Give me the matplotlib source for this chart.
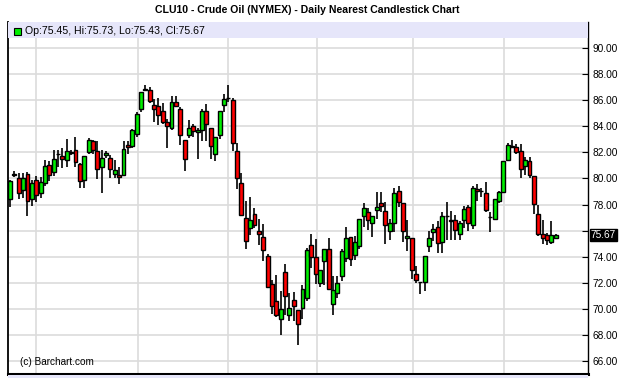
import matplotlib
matplotlib.use("Agg")
import matplotlib.pyplot as plt
from matplotlib.patches import Rectangle
from matplotlib.transforms import blended_transform_factory
import numpy as np

# ---- data ----
opens = [78.4, 80.3, 80.0, 79.1, 80.35, 78.4, 79.9, 78.85, 79.65, 81.0,
         80.5, 81.85, 81.75, 81.45, 81.95, 82.15, 81.1, 79.9, 82.0, 82.85,
         82.1, 80.9, 81.8, 81.6, 80.35, 80.25, 80.3, 82.55, 82.5, 83.4,
         85.35, 86.8, 86.75, 85.65, 85.55, 85.2, 84.35, 83.85, 85.9, 85.35,
         82.95, 83.3, 84.05, 83.55, 83.7, 85.2, 83.9, 81.9, 83.35, 85.6,
         86.15, 86.0, 82.1, 79.65, 76.95, 76.2, 77.25, 76.0, 75.5, 74.05,
         71.9, 70.6, 69.25, 72.8, 69.55, 70.7, 69.9, 70.1, 70.8, 74.9,
         73.95, 72.0, 73.7, 74.6, 70.4, 71.25, 72.55, 73.9, 75.5, 74.1,
         74.8, 77.1, 77.45, 76.55, 77.55, 78.1, 77.5, 76.0, 76.55, 79.05,
         78.15, 75.45, 75.4, 72.7, 72.03, 72.05, 74.85, 75.9, 76.3, 75.1,
         77.15, 76.8, 76.85, 75.75, 76.8, 77.8, 76.45, 79.2, 79.05, 78.9,
         77.05, 76.9, 78.25, 78.95, 81.4, 82.5, 82.4, 82.1, 80.95, 81.35,
         80.2, 77.3, 75.75, 75.65, 75.1, 75.45]
highs = [79.9, 80.55, 80.4, 80.4, 80.5, 79.9, 80.2, 80.1, 81.4, 81.3,
         82.2, 82.2, 82.3, 83.0, 82.2, 83.2, 81.2, 81.7, 83.1, 82.95,
         82.9, 82.2, 82.1, 81.8, 81.4, 80.9, 82.9, 82.85, 83.8, 85.1,
         86.65, 87.15, 87.0, 86.1, 86.2, 85.8, 84.55, 86.3, 86.3, 85.45,
         82.95, 84.5, 84.2, 83.85, 85.3, 85.7, 83.9, 83.2, 85.2, 86.5,
         87.15, 86.2, 82.7, 80.4, 78.3, 78.6, 77.7, 76.9, 76.5, 74.2,
         72.2, 72.6, 71.4, 73.4, 71.2, 71.3, 69.9, 71.8, 74.7, 75.75,
         75.35, 73.0, 74.6, 75.45, 72.5, 72.55, 74.6, 76.3, 75.5, 75.6,
         76.9, 78.15, 77.75, 77.15, 78.95, 78.95, 78.2, 76.9, 79.3, 79.4,
         78.15, 76.8, 75.4, 73.3, 72.05, 74.05, 76.0, 76.5, 76.75, 77.45,
         78.2, 77.5, 77.2, 76.7, 77.9, 78.0, 79.4, 79.6, 79.3, 79.75,
         77.4, 78.4, 79.05, 81.3, 82.7, 82.95, 82.65, 82.65, 81.65, 81.65,
         80.2, 78.0, 76.85, 75.8, 76.7, 75.73]
lows = [77.8, 80.1, 78.4, 78.5, 77.1, 77.9, 78.2, 78.5, 79.4, 79.8,
        80.2, 80.9, 80.8, 80.85, 81.8, 80.9, 79.3, 79.3, 81.9, 81.9,
        79.95, 78.9, 81.6, 80.0, 80.0, 79.6, 80.2, 81.9, 82.3, 83.2,
        85.1, 86.7, 85.8, 84.3, 84.1, 84.2, 82.3, 83.75, 85.5, 82.6,
        80.55, 83.1, 83.2, 81.5, 82.9, 82.9, 81.5, 81.3, 83.0, 85.1,
        85.9, 82.1, 79.2, 77.2, 74.6, 75.7, 76.2, 74.9, 73.7, 71.65,
        69.6, 69.4, 68.0, 69.5, 69.1, 69.1, 67.2, 69.2, 70.6, 73.15,
        71.9, 71.7, 71.8, 71.5, 69.5, 70.8, 72.1, 73.6, 73.3, 73.75,
        74.6, 76.3, 76.05, 75.5, 76.9, 77.45, 75.0, 75.3, 75.9, 77.8,
        75.1, 74.4, 72.25, 71.95, 71.15, 71.4, 74.35, 75.2, 74.3, 74.3,
        75.25, 75.3, 75.3, 75.25, 76.2, 76.0, 76.1, 78.3, 78.6, 77.4,
        75.9, 76.8, 78.1, 78.85, 81.35, 82.3, 81.9, 80.0, 80.3, 80.05,
        77.3, 75.6, 75.0, 74.9, 75.0, 75.43]
closes = [79.8, 80.32, 78.85, 80.0, 78.3, 79.65, 78.75, 79.7, 80.95, 80.25,
          81.5, 81.85, 81.5, 82.1, 82.05, 81.25, 79.8, 81.7, 82.95, 82.2,
          80.7, 81.6, 81.95, 80.7, 80.65, 80.1, 82.25, 82.4, 83.75, 84.95,
          86.6, 86.8, 85.95, 85.35, 84.9, 84.3, 84.05, 85.85, 85.55, 83.3,
          81.5, 83.85, 83.65, 83.75, 85.15, 84.2, 82.5, 83.15, 85.2, 86.1,
          86.2, 82.75, 80.0, 77.2, 75.2, 76.8, 76.45, 75.75, 74.5, 71.7,
          70.2, 69.5, 70.0, 71.0, 70.1, 70.25, 68.85, 71.5, 74.5, 74.0,
          72.65, 72.95, 74.6, 71.55, 71.45, 72.0, 74.4, 75.45, 73.8, 75.15,
          76.9, 77.7, 76.8, 77.15, 77.8, 77.9, 76.4, 76.55, 78.85, 78.2,
          75.95, 75.6, 73.0, 72.2, 72.05, 74.05, 75.45, 76.1, 75.05, 77.15,
          77.1, 76.7, 76.05, 76.55, 77.65, 76.55, 79.3, 79.0, 79.0, 77.55,
          77.05, 78.4, 78.95, 81.3, 82.55, 82.4, 82.0, 80.7, 81.45, 80.25,
          78.05, 75.75, 75.4, 75.25, 75.7, 75.67]

y_ticks = [66, 68, 70, 72, 74, 76, 78, 80, 82, 84, 86, 88, 90]
month_grid = [5.96, 29.26, 50.0, 70.35, 92.35, 113.05]
title = "CLU10 - Crude Oil (NYMEX) - Daily Nearest Candlestick Chart"
legend_text = "Op:75.45, Hi:75.73, Lo:75.43, Cl:75.67"
last_price = 75.67

# ---- layout ----
W, H = 633, 378
fig = plt.figure(figsize=(W / 100, H / 100), dpi=100)
fig.patch.set_facecolor("white")
L, R, T, B = 8, 588, 22, 374
ax = fig.add_axes([L / W, 1 - B / H, (R - L) / W, (B - T) / H])

UP = "#00ee00"
DN = "#ff0000"
n = len(opens)
x = np.arange(n)
o = np.array(opens); c = np.array(closes)
hi = np.array(highs); lo = np.array(lows)
up = c >= o
colors = [UP if u else DN for u in up]

ax.vlines(x, lo, hi, color="black", linewidth=1.2, zorder=3)
bottoms = np.minimum(o, c)
heights = np.maximum(np.abs(c - o), 0.03)
ax.bar(x, heights, bottom=bottoms, width=0.9, color=colors,
       edgecolor="black", linewidth=1.0, zorder=4)

ax.set_xlim(-0.46, 132.4)
ax.set_ylim(65.0, 92.0)

# grid
for yv in y_ticks:
    ax.axhline(yv, color="#dcdcdc", linewidth=1.2, zorder=1)
for xv in month_grid:
    ax.axvline(xv, color="#dcdcdc", linewidth=1.2, zorder=1)

ax.set_xticks([])
ax.yaxis.tick_right()
ax.set_yticks(y_ticks)
ax.set_yticklabels(["" if v == 76 else f"{v:.2f}" for v in y_ticks],
                   fontsize=7.3, family="Liberation Sans")
ax.tick_params(axis="y", direction="in", length=4, width=0.8, pad=3,
               colors="black")
ax.spines["top"].set_visible(False)
ax.spines["left"].set_linewidth(1.3)
ax.spines["right"].set_linewidth(1.0)
ax.spines["bottom"].set_linewidth(2.2)

trans = blended_transform_factory(ax.transAxes, ax.transData)
ax.text(1.0 + 3 / (R - L), last_price, f"{last_price:.2f}", transform=trans,
        color="white", fontsize=7.3, family="Liberation Sans", va="center",
        ha="left", bbox=dict(boxstyle="square,pad=0.1", fc="black", ec="black"),
        zorder=6)

# legend band
fig.patches.append(Rectangle((L / W, 1 - 38 / H), (R - L) / W, 16 / H,
                             transform=fig.transFigure, facecolor="#e6e6fa",
                             edgecolor="none", zorder=5))
fig.patches.append(Rectangle((L / W, 0), (R - L) / W, 3 / H,
                             transform=fig.transFigure, facecolor="#e6e6fa",
                             edgecolor="none", zorder=5))
fig.patches.append(Rectangle((14 / W, 1 - 35 / H), 7 / W, 7 / H,
                             transform=fig.transFigure, facecolor=UP,
                             edgecolor="black", linewidth=0.8, zorder=6))
fig.text(25 / W, 1 - 31 / H, legend_text, fontsize=7.6,
         family="Liberation Sans", va="center", ha="left", zorder=7)

fig.text(307 / W, 1 - 10 / H, title, fontsize=7.6, fontweight="bold",
         family="Liberation Sans", ha="center", va="center")
fig.text(20 / W, 1 - 362 / H, "(c) Barchart.com", fontsize=7.2,
         family="Liberation Sans", ha="left", va="center")

fig.savefig("out.png", dpi=100)
